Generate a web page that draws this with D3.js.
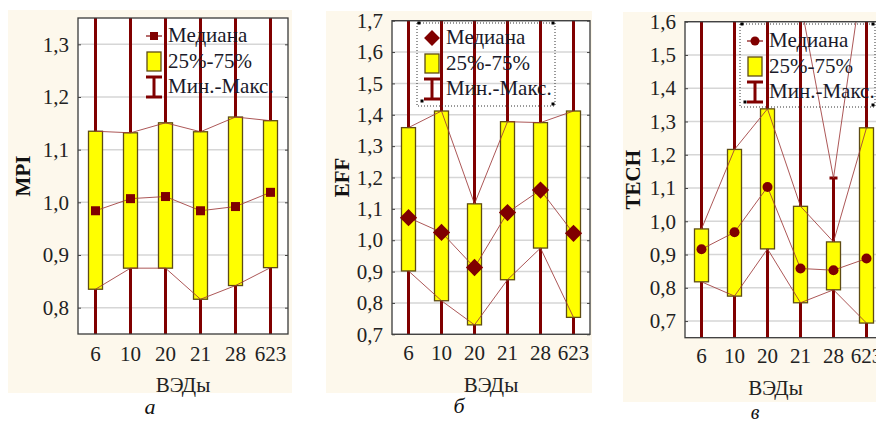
<!DOCTYPE html>
<html lang="ru">
<head>
<meta charset="UTF-8">
<title>ВЭДы</title>
<style>
body{margin:0;background:#fff}
svg text{font-family:"Liberation Serif","Tinos","Times New Roman","DejaVu Serif",serif !important}
</style>
</head>
<body>
<svg id="ss" width="876" height="424"></svg>
<script src="https://cdn.jsdelivr.net/npm/d3@7"></script>
<script>
var categories=["6","10","20","21","28","623"]

// MPI (a)
var mpiMin=[0.62,0.60,0.64,0.58,0.61,0.63]
var mpiQ25=[0.835,0.875,0.875,0.816,0.842,0.876]
var mpiMed=[0.984,1.007,1.011,0.984,0.992,1.019]
var mpiQ75=[1.135,1.132,1.151,1.134,1.162,1.155]
var mpiMax=[1.45,1.50,1.48,1.52,1.44,1.50]
var mpiTicks=[0.8,0.9,1.0,1.1,1.2,1.3]

// EFF (б)
var effMin=[0.55,0.50,0.45,0.52,0.60,0.48]
var effQ25=[0.902,0.807,0.730,0.874,0.975,0.754]
var effMed=[1.072,1.025,0.913,1.088,1.160,1.022]
var effQ75=[1.359,1.412,1.116,1.378,1.375,1.412]
var effMax=[1.90,2.00,1.85,1.95,1.90,2.10]
var effTicks=[0.7,0.8,0.9,1.0,1.1,1.2,1.3,1.4,1.5,1.6,1.7]

// TECH (в)
var techMin=[0.55,0.50,0.60,0.52,0.58,0.45]
var techQ25=[0.818,0.775,0.917,0.755,0.794,0.694]
var techMed=[0.916,0.967,1.103,0.858,0.853,0.888]
var techQ75=[0.977,1.216,1.338,1.045,0.938,1.281]
var techMax=[1.75,1.90,1.95,1.66,1.13,1.82]
var techTicks=[0.7,0.8,0.9,1.0,1.1,1.2,1.3,1.4,1.5,1.6]

var legendLabels=["Медиана","25%-75%","Мин.-Макс."]
var xTitle="ВЭДы"

var red="#800000",thin="#9e3a3a",boxStroke="#5e4c14",cream="#fdf8ec",grid="#d6d6d6"
var fmt=v=>d3.format(".1f")(v).replace(".",",")

var panels=[
 {id:"a",title:"MPI",letter:"а",marker:"square",min:mpiMin,q25:mpiQ25,med:mpiMed,q75:mpiQ75,max:mpiMax,ticks:mpiTicks,
  domain:[0.75,1.35],bg:[8,10,284,383],plot:[78,18,288,334],xlab:361,xtitle:392,ytitle:23,letterPos:[150,414],
  legend:{x:146,y:42,border:false}},
 {id:"b",title:"EFF",letter:"б",marker:"diamond",min:effMin,q25:effQ25,med:effMed,q75:effQ75,max:effMax,ticks:effTicks,
  domain:[0.7,1.7],bg:[326,11,266,382],plot:[392,20.7,590,334.3],xlab:360,xtitle:392,ytitle:342,letterPos:[459,413],
  legend:{x:424,y:44,border:[417,23,555,106]}},
 {id:"c",title:"TECH",letter:"в",marker:"circle",min:techMin,q25:techQ25,med:techMed,q75:techQ75,max:techMax,ticks:techTicks,
  domain:[0.65,1.6],bg:[623,12,260,390],plot:[685,21.7,883,337.7],xlab:363,xtitle:395,ytitle:633,letterPos:[755,419],
  legend:{x:747,y:47,border:[740,24,875,107]}}
]

var svg=d3.select("#ss")
var defs=svg.append("defs")

function drawMarker(g,type,cx,cy,s){
  if(type=="square") g.append("rect").attr("x",cx-s/2).attr("y",cy-s/2).attr("width",s).attr("height",s).attr("fill",red)
  else if(type=="diamond") g.append("path").attr("d",`M${cx},${cy-s*0.72}L${cx+s*0.72},${cy}L${cx},${cy+s*0.72}L${cx-s*0.72},${cy}Z`).attr("fill",red)
  else g.append("circle").attr("cx",cx).attr("cy",cy).attr("r",s/2+0.5).attr("fill",red)
}

panels.forEach(function(p){
  var g=svg.append("g")
  g.append("rect").attr("x",p.bg[0]).attr("y",p.bg[1]).attr("width",p.bg[2]).attr("height",p.bg[3]).attr("fill",cream)

  var x0=p.plot[0],y0=p.plot[1],x1=p.plot[2],y1=p.plot[3]
  var x=d3.scaleBand().domain(categories).range([x0,x1]).padding(0)
  var y=d3.scaleLinear().domain(p.domain).range([y1,y0])
  var cx=c=>x(c)+x.bandwidth()/2
  var bw=14

  g.append("rect").attr("x",x0).attr("y",y0).attr("width",x1-x0).attr("height",y1-y0).attr("fill","#fff")

  defs.append("clipPath").attr("id","clip-"+p.id).append("rect").attr("x",x0).attr("y",y0).attr("width",x1-x0).attr("height",y1-y0)
  var pg=g.append("g").attr("clip-path",`url(#clip-${p.id})`)

  // grid
  pg.selectAll(".grid").data(p.ticks).join("line")
    .attr("x1",x0).attr("x2",x1).attr("y1",d=>y(d)).attr("y2",d=>y(d))
    .attr("stroke",grid).attr("stroke-width",1.5)

  // whiskers
  pg.selectAll(".wh").data(categories).join("line")
    .attr("x1",cx).attr("x2",cx).attr("y1",(d,i)=>y(p.min[i])).attr("y2",(d,i)=>y(p.max[i]))
    .attr("stroke",red).attr("stroke-width",3)
  pg.selectAll(".capTop").data(categories).join("line")
    .attr("x1",d=>cx(d)-4).attr("x2",d=>cx(d)+4).attr("y1",(d,i)=>y(p.max[i])).attr("y2",(d,i)=>y(p.max[i]))
    .attr("stroke",red).attr("stroke-width",3)
  pg.selectAll(".capBot").data(categories).join("line")
    .attr("x1",d=>cx(d)-4).attr("x2",d=>cx(d)+4).attr("y1",(d,i)=>y(p.min[i])).attr("y2",(d,i)=>y(p.min[i]))
    .attr("stroke",red).attr("stroke-width",3)

  // boxes
  pg.selectAll(".box").data(categories).join("rect")
    .attr("x",d=>cx(d)-bw/2).attr("width",bw)
    .attr("y",(d,i)=>y(p.q75[i])).attr("height",(d,i)=>y(p.q25[i])-y(p.q75[i]))
    .attr("fill","#ffff00").attr("stroke",boxStroke).attr("stroke-width",1.3)

  // connecting lines
  var line=d3.line().x(d=>cx(d.c)).y(d=>y(d.v))
  ;[p.min,p.q25,p.med,p.q75,p.max].forEach(function(arr){
    pg.append("path").datum(categories.map((c,i)=>({c:c,v:arr[i]})))
      .attr("d",line).attr("fill","none").attr("stroke",thin).attr("stroke-width",1).attr("opacity",0.85)
  })

  // medians
  categories.forEach(function(c,i){
    drawMarker(pg,p.marker,cx(c),y(p.med[i]),p.marker=="diamond"?12:9)
  })

  // frame
  g.append("rect").attr("x",x0).attr("y",y0).attr("width",x1-x0).attr("height",y1-y0)
    .attr("fill","none").attr("stroke","#3a3a3a").attr("stroke-width",1.3)

  // axes
  var ya=g.append("g").attr("transform",`translate(${x0},0)`)
    .call(d3.axisLeft(y).tickValues(p.ticks).tickFormat(fmt).tickSize(-3).tickPadding(9))
  ya.select(".domain").remove()
  ya.selectAll("text").attr("font-size",21).attr("fill","#222")
  ya.selectAll("line").attr("stroke","#444")
  var yr=g.append("g").attr("transform",`translate(${x1},0)`)
    .call(d3.axisRight(y).tickValues(p.ticks).tickFormat("").tickSize(-3))
  yr.select(".domain").remove()
  yr.selectAll("line").attr("stroke","#444")

  g.selectAll(".xl").data(categories).join("text")
    .attr("x",cx).attr("y",p.xlab).attr("text-anchor","middle")
    .attr("font-size",21).attr("fill","#222").text(d=>d)

  g.append("text").attr("x",(x0+Math.min(x1,876))/2+ (p.id=="c"?-5:0)).attr("y",p.xtitle).attr("text-anchor","middle")
    .attr("font-size",21).attr("fill","#222").text(xTitle)

  g.append("text").attr("transform",`translate(${p.ytitle+7},${(y0+y1)/2}) rotate(-90)`)
    .attr("text-anchor","middle").attr("font-size",21).attr("font-weight","bold").attr("fill","#111").text(p.title)

  g.append("text").attr("x",p.letterPos[0]).attr("y",p.letterPos[1]).attr("text-anchor","middle")
    .attr("font-size",p.id=="c"?20:22).attr("font-style","italic").attr("fill","#111").text(p.letter)

  // legend
  var L=p.legend,lg=g.append("g")
  if(L.border){
    var b=L.border
    lg.append("rect").attr("x",b[0]).attr("y",b[1]).attr("width",b[2]-b[0]).attr("height",b[3]-b[1])
      .attr("fill","none").attr("stroke","#333").attr("stroke-width",1).attr("stroke-dasharray","1,2")
    ;[[b[0]+2,b[1]],[b[2]-2,b[1]],[b[0]+5,b[3]-5],[b[2]-2,b[3]-2]].forEach(q=>
      lg.append("rect").attr("x",q[0]-1.5).attr("y",q[1]-1.5).attr("width",3).attr("height",3).attr("fill","#000"))
  }
  var ix=L.x+8,ty=L.y
  if(p.marker!="diamond") lg.append("line").attr("x1",ix-8).attr("x2",ix+8).attr("y1",ty-6).attr("y2",ty-6).attr("stroke",thin).attr("stroke-width",1.5)
  drawMarker(lg,p.marker,ix,ty-6,p.marker=="diamond"?11:8)
  lg.append("rect").attr("x",ix-7).attr("y",ty+10).attr("width",14).attr("height",19)
    .attr("fill","#ffff00").attr("stroke",boxStroke).attr("stroke-width",1.3)
  lg.append("line").attr("x1",ix).attr("x2",ix).attr("y1",ty+35).attr("y2",ty+55).attr("stroke",red).attr("stroke-width",3)
  lg.append("line").attr("x1",ix-8).attr("x2",ix+8).attr("y1",ty+35).attr("y2",ty+35).attr("stroke",red).attr("stroke-width",3)
  lg.append("line").attr("x1",ix-8).attr("x2",ix+8).attr("y1",ty+55).attr("y2",ty+55).attr("stroke",red).attr("stroke-width",3)
  lg.selectAll(".lt").data(legendLabels).join("text")
    .attr("x",L.x+22).attr("y",(d,i)=>ty+i*25.5).attr("font-size",21).attr("fill","#1a1a2a").text(d=>d)
})
</script>
</body>
</html>
